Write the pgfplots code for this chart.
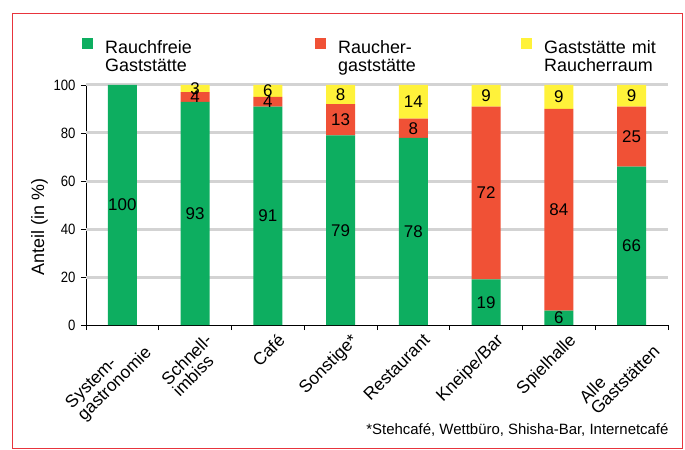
\documentclass[border=0pt]{standalone}
\usepackage{fontspec}
\setmainfont{Liberation Sans}
\newfontfamily\tickf[FakeStretch=0.88]{Liberation Sans}
\usepackage{pgfplots}
\usepackage{pgfplotstable}
\pgfplotsset{compat=1.18}
\definecolor{cgreen}{RGB}{13,174,96}
\definecolor{cred}{RGB}{240,81,54}
\definecolor{cyellow}{RGB}{255,242,58}
\definecolor{cgrid}{RGB}{211,211,211}
\definecolor{cframe}{RGB}{232,52,60}

\pgfplotstableread{
x h lab
0 100 100
1 93 93
2 91 91
3 79 79
4 78 78
5 19 19
6 6 6
7 66 66
}\tgreen
\pgfplotstableread{
x h lab
0 0 {}
1 4 4
2 4 4
3 13 13
4 8 8
5 72 72
6 84 84
7 25 25
}\tred
\pgfplotstableread{
x h lab
0 0 {}
1 3 3
2 5 6
3 8 8
4 14 14
5 9 9
6 10 9
7 9 9
}\tyellow

\begin{document}
\begin{tikzpicture}
\useasboundingbox (-86bp,-125bp) rectangle (599bp,325bp);
\fill[white] (-86bp,-125bp) rectangle (599bp,325bp);
\draw[cframe, line width=1bp] (-73bp,-123bp) rectangle (596bp,311bp);
\begin{axis}[
  at={(0,0)}, anchor=south west, name=ax,
  scale only axis, width=582bp, height=240bp,
  ybar stacked, bar width=29bp,
  xmin=-0.5, xmax=7.5, ymin=0, ymax=100,
  axis lines*=left, axis line style={line width=0.8bp},
  xtick={-0.5,0.5,...,7.5},
  x tick label as interval,
  xticklabels={{System-\\gastronomie},{Schnell-\\imbiss},Café,Sonstige*,Restaurant,Kneipe/Bar,Spielhalle,{Alle\\Gaststätten}},
  xticklabel style={xshift=9bp, yshift=-1bp, rotate=45, anchor=north east, align=left, font=\fontsize{17.5}{16}\selectfont, inner sep=1bp},
  ytick={0,20,...,100},
  yticklabel style={xshift=-2bp, font=\tickf\fontsize{15}{15}\selectfont},
  /pgf/number format/assume math mode=true,
  tick align=outside, major tick length=5bp,
  tick style={black, line width=0.8bp},
  extra y ticks={20,40,...,100}, extra y tick labels={},
  extra y tick style={grid=major},
  grid style={cgrid, line width=3bp},
  ylabel={Anteil (in \%)},
  ylabel style={at={(axis description cs:-0.08,0.408)}, anchor=center, font=\fontsize{18}{18}\selectfont},
  nodes near coords={\pgfplotspointmeta},
  point meta=explicit symbolic,
  every node near coord/.append style={anchor=center, font=\fontsize{17}{17}\selectfont},
  legend columns=3,
  legend style={draw=none, fill=none, at={(axis description cs:-0.012,1.205)}, anchor=north west,
    font=\fontsize{18}{18}\selectfont,
    /tikz/every odd column/.append style={column sep=10bp},
    cells={align=left}},
  legend image code/.code={\fill[#1] (0bp,-1bp) rectangle (11bp,10bp);},
]
\addplot[fill=cgreen, draw=none] table[x=x, y=h, meta=lab] {\tgreen};
\addlegendentry[text width=208bp]{Rauchfreie\\Gaststätte}
\addplot[fill=cred, draw=none] table[x=x, y=h, meta=lab] {\tred};
\addlegendentry[text width=181bp]{Raucher-\\gaststätte}
\addplot[fill=cyellow, draw=none] table[x=x, y=h, meta=lab] {\tyellow};
\addlegendentry[text width=130bp]{Gaststätte mit\\Raucherraum}
\end{axis}
\node[anchor=base east, font=\fontsize{15}{15}\selectfont] at ([xshift=4bp,yshift=-109bp]ax.south east) {*Stehcafé, Wettbüro, Shisha-Bar, Internetcafé};
\end{tikzpicture}
\end{document}
